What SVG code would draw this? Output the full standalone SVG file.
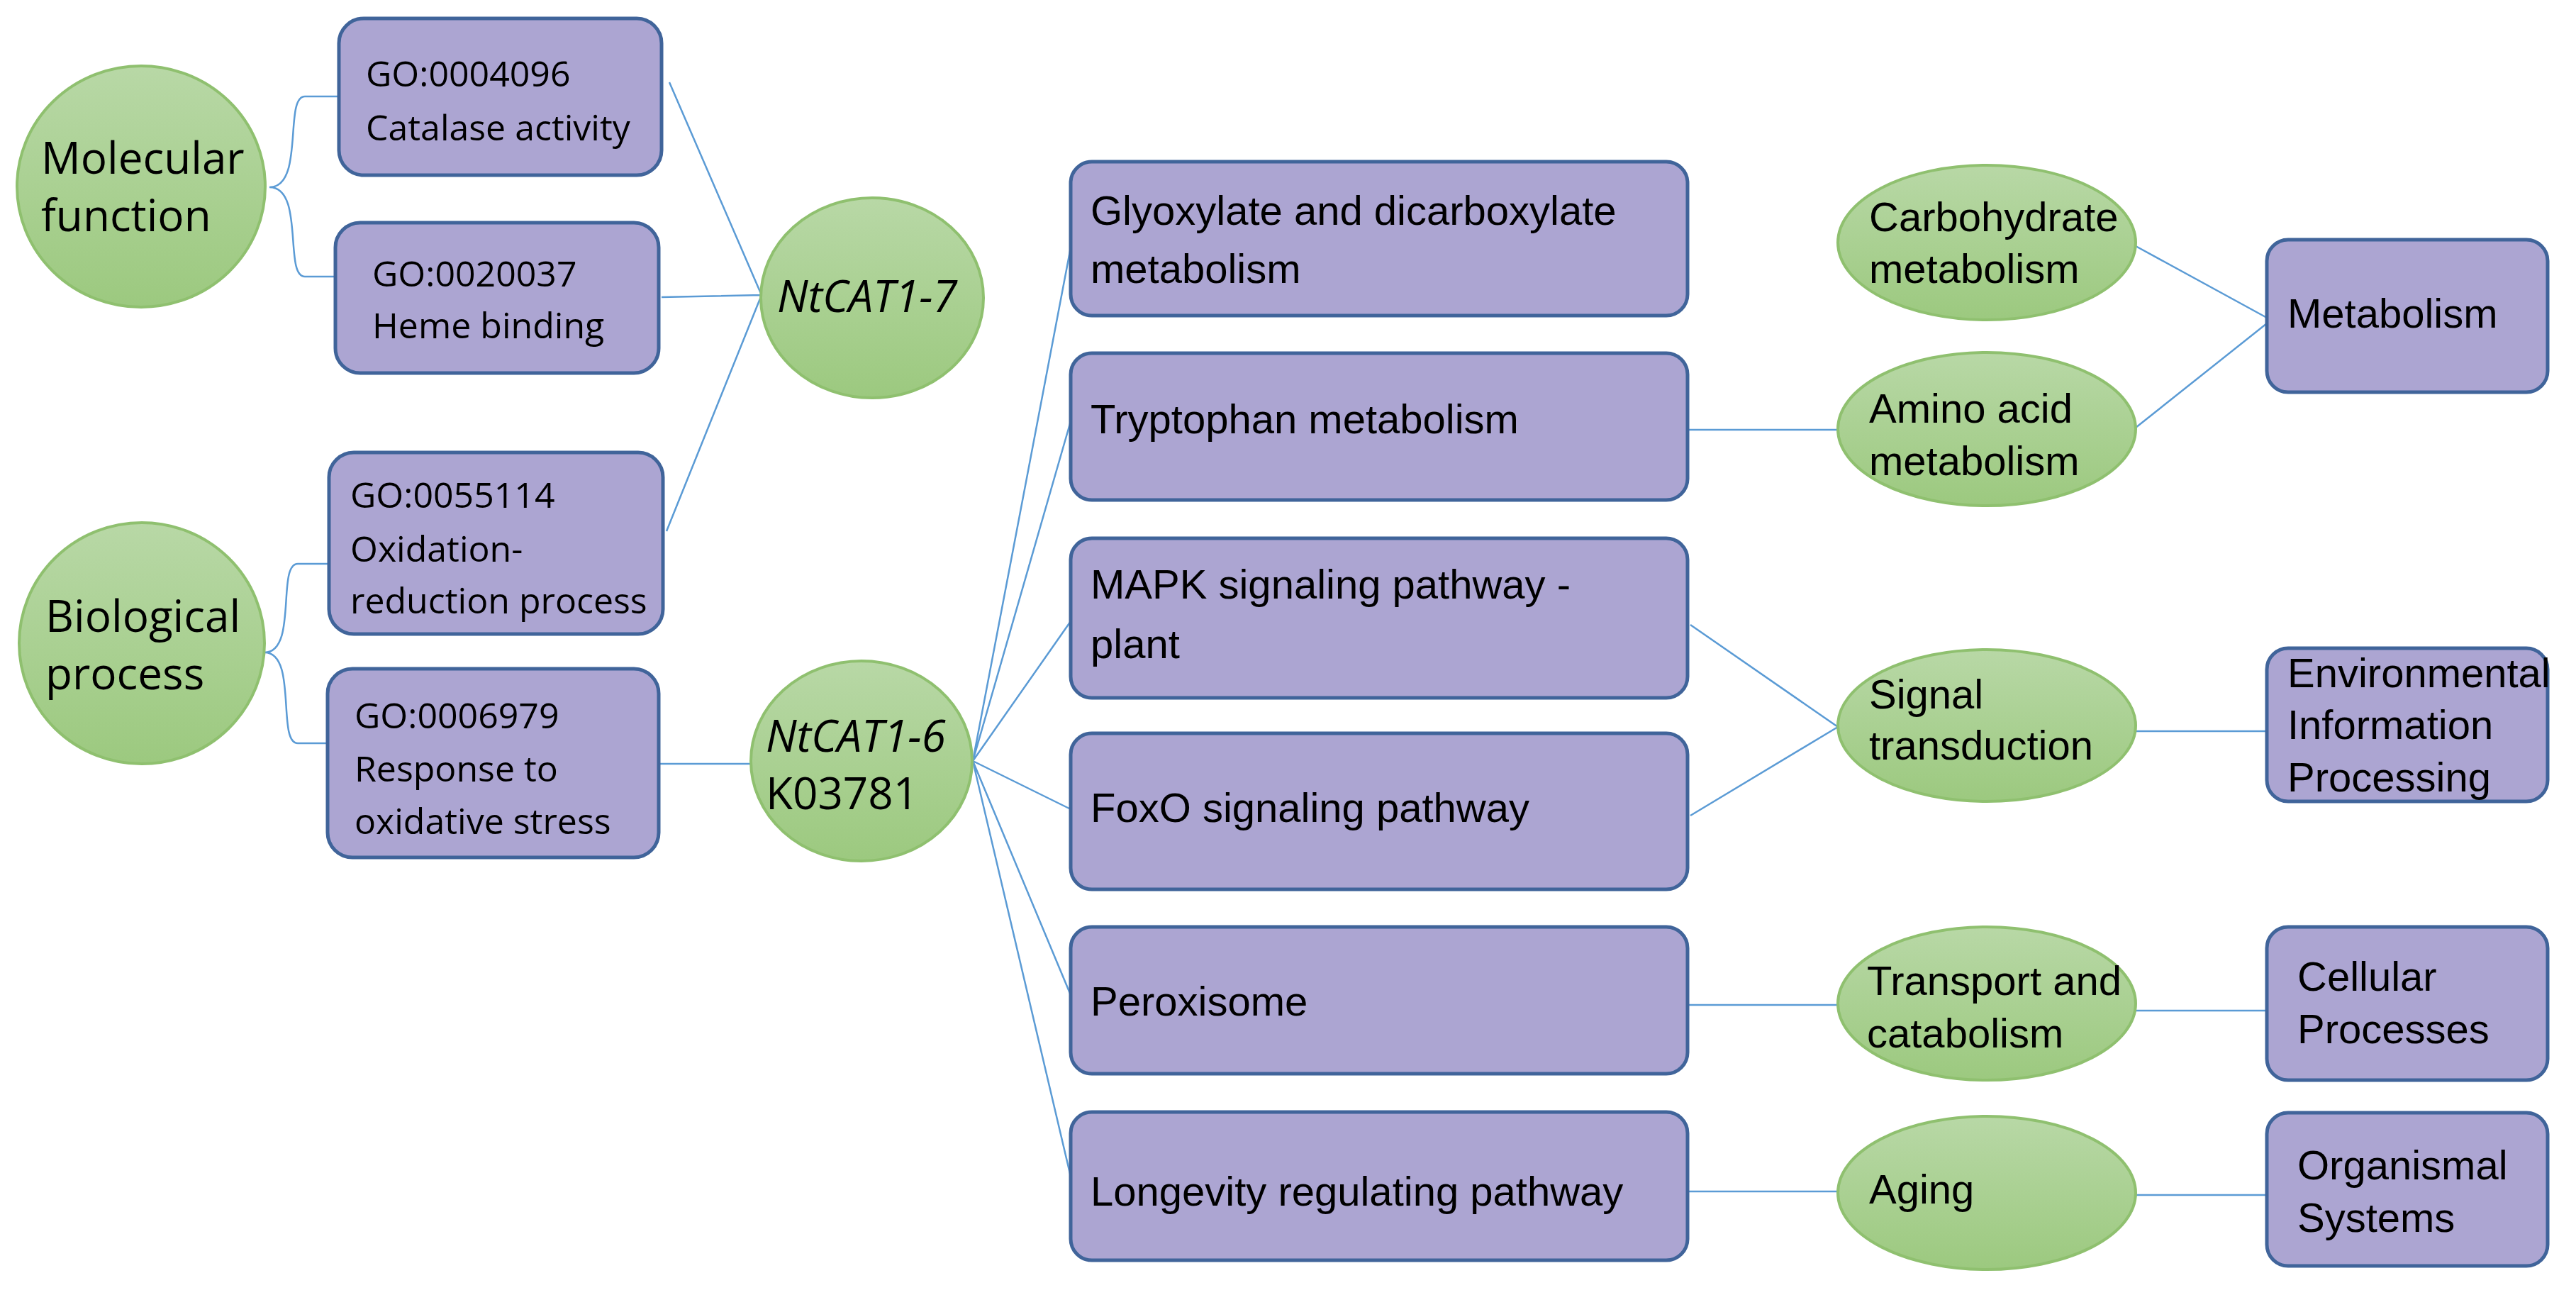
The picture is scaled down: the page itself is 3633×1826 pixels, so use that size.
<svg xmlns="http://www.w3.org/2000/svg" width="3633" height="1826" viewBox="0 0 3633 1826">
<defs>
<linearGradient id="g" x1="0" y1="0" x2="0" y2="1"><stop offset="0" stop-color="#b8d8a6"/><stop offset="1" stop-color="#9cc97f"/></linearGradient>
<style>
.b{fill:#aca5d2;stroke:#40649a;stroke-width:5}
.e{fill:url(#g);stroke:#8fc06f;stroke-width:4}
.l{fill:none;stroke:#5b9bd5;stroke-width:2.5}
.t1{font-family:"Open Sans",sans-serif;font-size:62px;fill:#000}
.t2{font-family:"Open Sans",sans-serif;font-size:50px;fill:#000}
.t3{font-family:"Liberation Sans",sans-serif;font-size:58px;fill:#000}
.i{font-style:italic}
</style>
</defs>
<rect width="3633" height="1826" fill="#fff"/>
<g id="connectors">
<path class="l" d="M380,264 C430,264 400,136 430,136 L478,136 M380,264 C430,264 400,390 430,390 L473,390"/>
<path class="l" d="M373,920 C420,920 390,795 420,795 L464,795 M373,920 C420,920 390,1048 420,1048 L462,1048"/>
<path class="l" d="M944,116 L1074,416 M933,419 L1074,416 M940,749 L1074,416"/>
<path class="l" d="M929,1077 L1059,1077"/>
<path class="l" d="M1372,1073 L1510,349 M1372,1073 L1510,594 M1372,1073 L1510,876 M1372,1073 L1510,1141 M1372,1073 L1510,1403 M1372,1073 L1510,1659"/>
<path class="l" d="M2380,606 L2592,606 M2384,881 L2592,1025 M2384,1150 L2592,1025 M2380,1417 L2592,1417 M2380,1680 L2592,1680"/>
<path class="l" d="M3012,347 L3197,448 M3012,603 L3197,456 M3012,1031 L3197,1031 M3012,1425 L3197,1425 M3012,1685 L3197,1685"/>
</g>
<g id="mf"><ellipse class="e" cx="199" cy="263" rx="175" ry="170"/><text class="t1" x="58" y="245">Molecular</text><text class="t1" x="58" y="326">function</text></g>
<g id="bp"><ellipse class="e" cx="200" cy="907" rx="173" ry="170"/><text class="t1" x="64" y="891">Biological</text><text class="t1" x="64" y="972">process</text></g>
<g id="go1"><rect class="b" x="478" y="26" width="455" height="221" rx="35"/><text class="t2" x="516" y="122">GO:0004096</text><text class="t2" x="516" y="198">Catalase activity</text></g>
<g id="go2"><rect class="b" x="473" y="314" width="456" height="212" rx="35"/><text class="t2" x="525" y="404">GO:0020037</text><text class="t2" x="525" y="477">Heme binding</text></g>
<g id="go3"><rect class="b" x="464" y="638" width="471" height="256" rx="35"/><text class="t2" x="494" y="716">GO:0055114</text><text class="t2" x="494" y="792">Oxidation-</text><text class="t2" x="494" y="865">reduction process</text></g>
<g id="go4"><rect class="b" x="462" y="943" width="467" height="266" rx="35"/><text class="t2" x="500" y="1027">GO:0006979</text><text class="t2" x="500" y="1102">Response to</text><text class="t2" x="500" y="1176">oxidative stress</text></g>
<g id="cat17"><ellipse class="e" cx="1230" cy="420" rx="157" ry="141"/><text class="t1 i" x="1096" y="440">NtCAT1-7</text></g>
<g id="cat16"><ellipse class="e" cx="1215" cy="1073" rx="156" ry="141"/><text class="t1 i" x="1080" y="1060">NtCAT1-6</text><text class="t1" x="1080" y="1141">K03781</text></g>
<g id="glyox"><rect class="b" x="1510" y="228" width="870" height="217" rx="30"/><text class="t3" x="1538" y="317">Glyoxylate and dicarboxylate</text><text class="t3" x="1538" y="399">metabolism</text></g>
<g id="trp"><rect class="b" x="1510" y="498" width="870" height="207" rx="30"/><text class="t3" x="1538" y="611">Tryptophan metabolism</text></g>
<g id="mapk"><rect class="b" x="1510" y="759" width="870" height="225" rx="30"/><text class="t3" x="1538" y="844">MAPK signaling pathway -</text><text class="t3" x="1538" y="928">plant</text></g>
<g id="foxo"><rect class="b" x="1510" y="1034" width="870" height="220" rx="30"/><text class="t3" x="1538" y="1159">FoxO signaling pathway</text></g>
<g id="perox"><rect class="b" x="1510" y="1307" width="870" height="207" rx="30"/><text class="t3" x="1538" y="1432">Peroxisome</text></g>
<g id="longev"><rect class="b" x="1510" y="1568" width="870" height="209" rx="30"/><text class="t3" x="1538" y="1700">Longevity regulating pathway</text></g>
<g id="carbo"><ellipse class="e" cx="2802" cy="342" rx="210" ry="109"/><text class="t3" x="2636" y="326">Carbohydrate</text><text class="t3" x="2636" y="399">metabolism</text></g>
<g id="amino"><ellipse class="e" cx="2802" cy="605" rx="210" ry="108"/><text class="t3" x="2636" y="596">Amino acid</text><text class="t3" x="2636" y="670">metabolism</text></g>
<g id="signal"><ellipse class="e" cx="2802" cy="1023" rx="210" ry="107"/><text class="t3" x="2636" y="999">Signal</text><text class="t3" x="2636" y="1071">transduction</text></g>
<g id="transport"><ellipse class="e" cx="2802" cy="1415" rx="210" ry="108"/><text class="t3" x="2633" y="1403">Transport and</text><text class="t3" x="2633" y="1477">catabolism</text></g>
<g id="aging"><ellipse class="e" cx="2802" cy="1682" rx="210" ry="108"/><text class="t3" x="2636" y="1697">Aging</text></g>
<g id="metab"><rect class="b" x="3197" y="338" width="396" height="215" rx="30"/><text class="t3" x="3226" y="462">Metabolism</text></g>
<g id="env"><rect class="b" x="3197" y="914" width="396" height="216" rx="30"/><text class="t3" x="3226" y="969">Environmental</text><text class="t3" x="3226" y="1042">Information</text><text class="t3" x="3226" y="1116">Processing</text></g>
<g id="cell"><rect class="b" x="3197" y="1307" width="396" height="216" rx="30"/><text class="t3" x="3240" y="1397">Cellular</text><text class="t3" x="3240" y="1471">Processes</text></g>
<g id="org"><rect class="b" x="3197" y="1569" width="396" height="216" rx="30"/><text class="t3" x="3240" y="1663">Organismal</text><text class="t3" x="3240" y="1737">Systems</text></g>
</svg>
